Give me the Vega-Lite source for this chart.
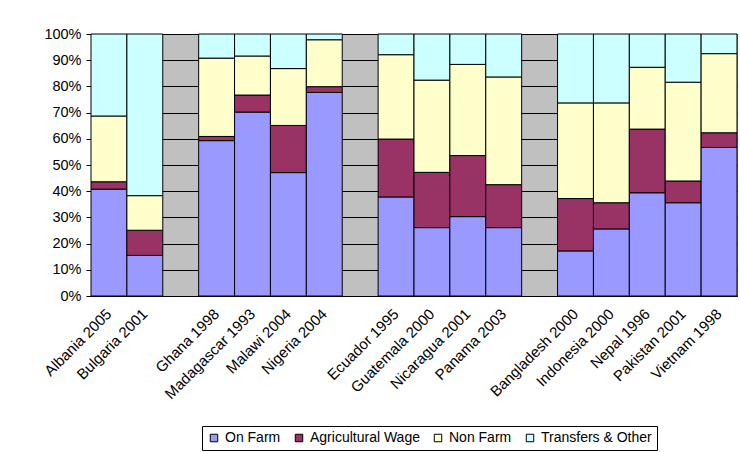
{
  "$schema": "https://vega.github.io/schema/vega-lite/v6.json",
  "width": 646,
  "height": 262,
  "autosize": {"type": "none"},
  "padding": {"left": 91, "top": 34, "right": 3, "bottom": 156},
  "background": "white",
  "config": {
    "font": "Liberation Sans",
    "view": {"fill": "#c0c0c0", "stroke": "#808080", "strokeWidth": 1},
    "axis": {"labelFont": "Liberation Sans", "labelColor": "black"}
  },
  "data": {
    "values": [
      {"country": "Albania 2005", "On Farm": 40.8, "Agricultural Wage": 2.8, "Non Farm": 25.1, "Transfers & Other": 31.3},
      {"country": "Bulgaria 2001", "On Farm": 15.5, "Agricultural Wage": 9.6, "Non Farm": 13.2, "Transfers & Other": 61.7},
      {"country": "Ghana 1998", "On Farm": 59.3, "Agricultural Wage": 1.6, "Non Farm": 29.9, "Transfers & Other": 9.2},
      {"country": "Madagascar 1993", "On Farm": 70.2, "Agricultural Wage": 6.5, "Non Farm": 14.9, "Transfers & Other": 8.4},
      {"country": "Malawi 2004", "On Farm": 47.1, "Agricultural Wage": 18.0, "Non Farm": 21.7, "Transfers & Other": 13.2},
      {"country": "Nigeria 2004", "On Farm": 77.7, "Agricultural Wage": 2.2, "Non Farm": 17.9, "Transfers & Other": 2.2},
      {"country": "Ecuador 1995", "On Farm": 37.8, "Agricultural Wage": 22.1, "Non Farm": 32.2, "Transfers & Other": 7.9},
      {"country": "Guatemala 2000", "On Farm": 26.1, "Agricultural Wage": 21.1, "Non Farm": 35.2, "Transfers & Other": 17.6},
      {"country": "Nicaragua 2001", "On Farm": 30.3, "Agricultural Wage": 23.3, "Non Farm": 34.8, "Transfers & Other": 11.6},
      {"country": "Panama 2003", "On Farm": 26.1, "Agricultural Wage": 16.4, "Non Farm": 41.1, "Transfers & Other": 16.4},
      {"country": "Bangladesh 2000", "On Farm": 17.2, "Agricultural Wage": 20.0, "Non Farm": 36.5, "Transfers & Other": 26.3},
      {"country": "Indonesia 2000", "On Farm": 25.6, "Agricultural Wage": 10.0, "Non Farm": 38.1, "Transfers & Other": 26.3},
      {"country": "Nepal 1996", "On Farm": 39.4, "Agricultural Wage": 24.3, "Non Farm": 23.6, "Transfers & Other": 12.7},
      {"country": "Pakistan 2001", "On Farm": 35.6, "Agricultural Wage": 8.3, "Non Farm": 37.7, "Transfers & Other": 18.4},
      {"country": "Vietnam 1998", "On Farm": 56.7, "Agricultural Wage": 5.6, "Non Farm": 30.2, "Transfers & Other": 7.5}
    ]
  },
  "transform": [
    {"fold": ["On Farm", "Agricultural Wage", "Non Farm", "Transfers & Other"], "as": ["source", "share"]}
  ],
  "mark": {"type": "bar", "stroke": "black", "strokeWidth": 1},
  "encoding": {
    "x": {
      "field": "country",
      "type": "nominal",
      "scale": {
        "domain": ["Albania 2005", "Bulgaria 2001", "gap1", "Ghana 1998", "Madagascar 1993", "Malawi 2004", "Nigeria 2004", "gap2", "Ecuador 1995", "Guatemala 2000", "Nicaragua 2001", "Panama 2003", "gap3", "Bangladesh 2000", "Indonesia 2000", "Nepal 1996", "Pakistan 2001", "Vietnam 1998"],
        "paddingInner": 0,
        "paddingOuter": 0
      },
      "axis": {
        "title": null,
        "labelAngle": -45,
        "labelAlign": "right",
        "labelBaseline": "middle",
        "labelFontSize": 15,
        "labelExpr": "indexof(datum.value, 'gap') == 0 ? '' : datum.value",
        "ticks": false,
        "domain": true,
        "domainColor": "black",
        "labelPadding": 15,
        "labelDx": -6
      }
    },
    "y": {
      "field": "share",
      "type": "quantitative",
      "stack": "normalize",
      "scale": {"domain": [0, 1]},
      "axis": {
        "title": null,
        "format": ".0%",
        "values": [0, 0.1, 0.2, 0.3, 0.4, 0.5, 0.6, 0.7, 0.8, 0.9, 1],
        "grid": true,
        "gridColor": "black",
        "gridOpacity": 1,
        "gridWidth": 1,
        "domainColor": "black",
        "tickColor": "black",
        "tickSize": 5,
        "labelFontSize": 14.5,
        "labelPadding": 5
      }
    },
    "color": {
      "field": "source",
      "type": "nominal",
      "sort": ["On Farm", "Agricultural Wage", "Non Farm", "Transfers & Other"],
      "scale": {
        "domain": ["On Farm", "Agricultural Wage", "Non Farm", "Transfers & Other"],
        "range": ["#9999ff", "#993366", "#ffffcc", "#ccffff"]
      },
      "legend": {
        "title": null,
        "orient": "none",
        "legendX": 111,
        "legendY": 392,
        "direction": "horizontal",
        "columns": 4,
        "symbolType": "square",
        "symbolSize": 56,
        "symbolStrokeColor": "black",
        "symbolStrokeWidth": 1,
        "labelFontSize": 14,
        "labelColor": "black",
        "columnPadding": 11,
        "strokeColor": "black",
        "padding": 5,
        "fillColor": "white"
      }
    },
    "order": {"field": "stack_position", "type": "quantitative"}
  }
}
